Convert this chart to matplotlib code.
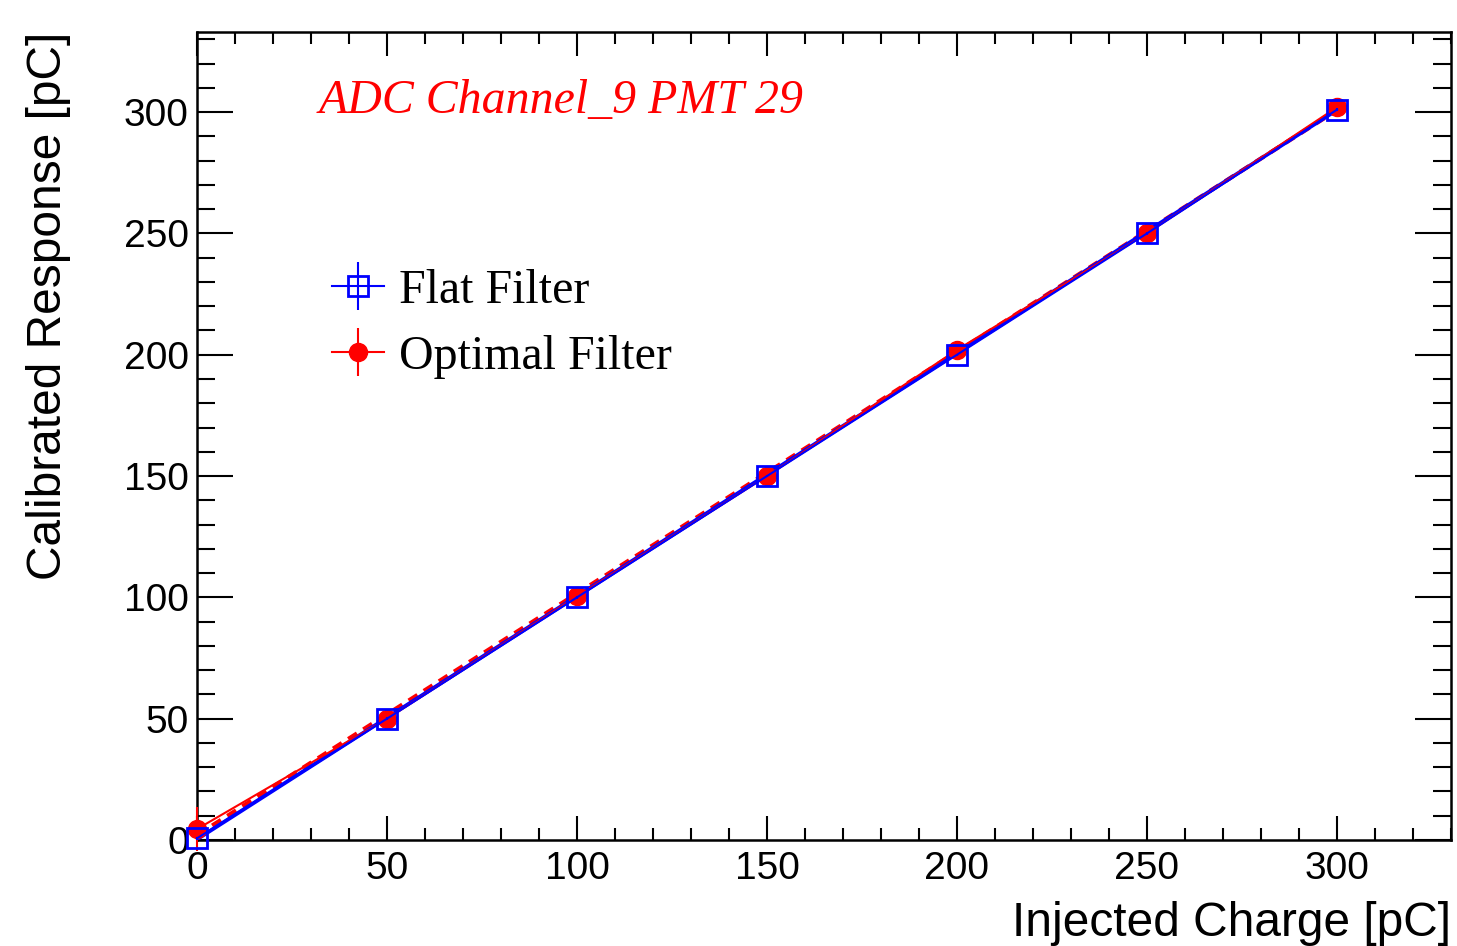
import matplotlib
matplotlib.use("Agg")
import matplotlib.pyplot as plt
import numpy as np
from matplotlib.ticker import MultipleLocator

# Data
charge = [0, 50, 100, 150, 200, 250, 300]
flat_resp = [0.7, 50.0, 100.0, 150.0, 200.0, 250.0, 301.0]
flat_err = [0.5, 0.5, 0.5, 0.5, 0.5, 0.5, 0.5]
opt_resp = [4.5, 50.0, 100.5, 150.0, 202.0, 250.0, 302.0]
opt_err = [9.0, 0.5, 0.5, 0.5, 0.5, 0.5, 0.5]

# linear fit parameters (intercept, slope)
flat_fit = (0.3, 1.002)
opt_fit = (2.0, 0.996)
fit_range = [0, 300]

fig = plt.figure(figsize=(14.57, 9.46), dpi=100)
ax = fig.add_axes([197/1457, 1-840/946, (1451-197)/1457, (840-32)/946])

sans = ['Liberation Sans', 'DejaVu Sans']
serif = ['Liberation Serif', 'DejaVu Serif']

# fit lines
fx = np.array(fit_range, dtype=float)
ax.plot(fx, opt_fit[0] + opt_fit[1]*fx, color='red', lw=3.0, ls=(0, (2.5, 1.8)), zorder=3)
ax.plot(fx, flat_fit[0] + flat_fit[1]*fx, color='blue', lw=2.8, zorder=4)

# data series
eo = ax.errorbar(charge, opt_resp, yerr=opt_err, color='red', lw=1.5, marker='o', ms=13,
                 mfc='red', mec='red', zorder=5, clip_on=False)
ef = ax.errorbar(charge, flat_resp, yerr=flat_err, color='blue', lw=1.5, marker='s', ms=14,
                 mfc='none', mec='blue', mew=2, zorder=6, clip_on=False)

ax.set_xlim(0, 330)
ax.set_ylim(0, 333)

ax.xaxis.set_major_locator(MultipleLocator(50))
ax.xaxis.set_minor_locator(MultipleLocator(10))
ax.yaxis.set_major_locator(MultipleLocator(50))
ax.yaxis.set_minor_locator(MultipleLocator(10))
ax.tick_params(which='both', direction='in', top=True, right=True, width=1.5)
ax.tick_params(axis='x', which='major', length=17, pad=8)
ax.tick_params(axis='x', which='minor', length=8.6)
ax.tick_params(axis='y', which='major', length=26, pad=6)
ax.tick_params(axis='y', which='minor', length=13)
for lab in ax.get_xticklabels() + ax.get_yticklabels():
    lab.set_fontfamily(sans)
    lab.set_fontsize(28)
for s in ax.spines.values():
    s.set_linewidth(1.8)

ax.set_xlabel('Injected Charge [pC]', fontsize=34.5, family=sans, loc='right', labelpad=10)
ax.set_ylabel('Calibrated Response [pC]', fontsize=34.5, family=sans, loc='top', labelpad=38)

ax.text(0.097, 0.915, 'ADC Channel_9 PMT 29', transform=ax.transAxes, color='red',
        fontsize=34.5, family=serif, style='italic', va='center', ha='left')

leg = ax.legend([ef, eo], ['Flat Filter', 'Optimal Filter'], loc='upper left',
                bbox_to_anchor=(0.073, 0.76), frameon=False,
                prop={'family': serif, 'size': 34.5}, handlelength=1.1, handletextpad=0.3,
                labelspacing=0.45, markerscale=1.0)

fig.savefig('out.png', dpi=100)
